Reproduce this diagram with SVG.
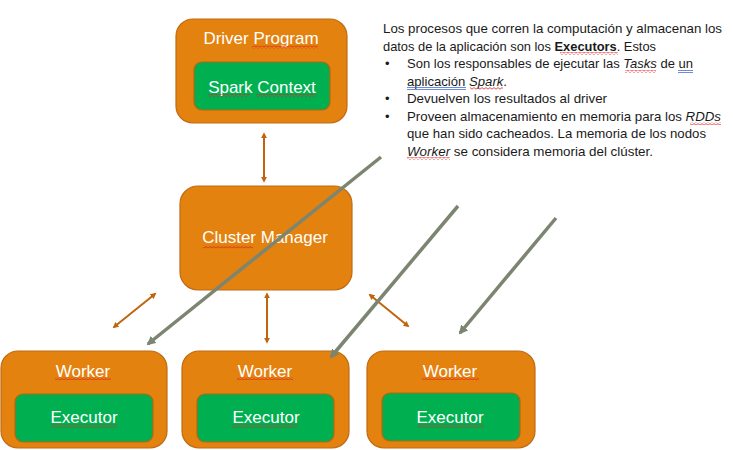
<svg xmlns="http://www.w3.org/2000/svg" width="733" height="450" viewBox="0 0 733 450">
<style>
.box{fill:#E3820F;stroke:#C06A12;stroke-width:1.2}
.inner{fill:#00B050;stroke:#B8660E;stroke-width:1.2}
.lbl{font-family:"Liberation Sans",Arial,sans-serif;font-size:17px;fill:#ffffff;text-anchor:middle}
.txt{font-family:"Liberation Sans",Arial,sans-serif;font-size:13px;fill:#1a1a1a}
.sq{fill:url(#squig)}
.blue{stroke:#4A6FD0;stroke-width:0.8;fill:none}
.oa{stroke:#C0650E;stroke-width:2;fill:none;marker-start:url(#oh);marker-end:url(#oh)}
.ga{stroke:#7B8570;stroke-width:3.5;fill:none;marker-end:url(#gh)}
</style>
<defs>
<pattern id="squig" width="4" height="3" patternUnits="userSpaceOnUse">
<path d="M0 2.2 L2 0.6 L4 2.2" stroke="#E02020" stroke-width="0.8" fill="none"/>
</pattern>
<marker id="oh" viewBox="0 0 10 10" refX="7" refY="5" markerWidth="6" markerHeight="6" markerUnits="userSpaceOnUse" orient="auto-start-reverse">
<path d="M0 0 L10 5 L0 10 z" fill="#C0650E"/>
</marker>
<marker id="gh" viewBox="0 0 10 10" refX="8" refY="5" markerWidth="9" markerHeight="9" markerUnits="userSpaceOnUse" orient="auto">
<path d="M0 0 L10 5 L0 10 z" fill="#7B8570"/>
</marker>
</defs>
<rect width="733" height="450" fill="#ffffff"/>

<g id="driver">
<rect class="box" x="176" y="19" width="171" height="104" rx="17"/>
<text class="lbl" x="261" y="44">Driver Program</text>
<rect class="sq" x="252" y="45.5" width="66" height="3"/>
<g id="sparkcontext">
<rect class="inner" x="194" y="62" width="136" height="48" rx="8"/>
<text class="lbl" x="262" y="93">Spark Context</text>
<rect class="sq" x="208" y="94" width="42" height="3"/>
<rect class="sq" x="256" y="94" width="60" height="3"/>
</g>
</g>

<g id="cluster">
<rect class="box" x="180" y="186" width="172" height="104" rx="18"/>
<text class="lbl" x="265" y="243">Cluster Manager</text>
<rect class="sq" x="203" y="245.5" width="50" height="3"/>
</g>

<g id="worker1">
<rect class="box" x="1" y="351" width="166" height="97" rx="17"/>
<text class="lbl" x="83" y="377">Worker</text>
<rect class="sq" x="55" y="377" width="56" height="3"/>
<g id="executor1">
<rect class="inner" x="15" y="394" width="138" height="48" rx="8"/>
<text class="lbl" x="84" y="423">Executor</text>
<rect class="sq" x="51" y="424.5" width="66" height="3"/>
</g>
</g>

<g id="worker2">
<rect class="box" x="182" y="351" width="167" height="97" rx="17"/>
<text class="lbl" x="265" y="377">Worker</text>
<rect class="sq" x="237" y="377" width="56" height="3"/>
<g id="executor2">
<rect class="inner" x="197" y="394" width="137" height="48" rx="8"/>
<text class="lbl" x="266" y="423">Executor</text>
<rect class="sq" x="232" y="424.5" width="66" height="3"/>
</g>
</g>

<g id="worker3">
<rect class="box" x="367" y="351" width="168" height="97" rx="17"/>
<text class="lbl" x="450" y="377">Worker</text>
<rect class="sq" x="422" y="377" width="57" height="3"/>
<g id="executor3">
<rect class="inner" x="382" y="393" width="138" height="48" rx="8"/>
<text class="lbl" x="450" y="423">Executor</text>
<rect class="sq" x="417" y="424.5" width="67" height="3"/>
</g>
</g>

<g id="notes">
<text class="txt" x="383" y="33" textLength="339" lengthAdjust="spacingAndGlyphs">Los procesos que corren la computación y almacenan los</text>
<text class="txt" x="383" y="50.5" textLength="273" lengthAdjust="spacingAndGlyphs">datos de la aplicación son los <tspan font-weight="bold">Executors</tspan>. Estos</text>
<text class="txt" x="385" y="68">•</text>
<text class="txt" x="407" y="68" textLength="286" lengthAdjust="spacingAndGlyphs">Son los responsables de ejecutar las <tspan font-style="italic">Tasks</tspan> de un</text>
<text class="txt" x="407" y="85.5" textLength="100" lengthAdjust="spacingAndGlyphs">aplicación <tspan font-style="italic">Spark</tspan>.</text>
<text class="txt" x="385" y="103">•</text>
<text class="txt" x="407" y="103" textLength="200" lengthAdjust="spacingAndGlyphs">Devuelven los resultados al driver</text>
<text class="txt" x="385" y="120.5">•</text>
<text class="txt" x="407" y="120.5" textLength="314" lengthAdjust="spacingAndGlyphs">Proveen almacenamiento en memoria para los <tspan font-style="italic">RDDs</tspan></text>
<text class="txt" x="407" y="138" textLength="299" lengthAdjust="spacingAndGlyphs">que han sido cacheados. La memoria de los nodos</text>
<text class="txt" x="407" y="155.5" textLength="246" lengthAdjust="spacingAndGlyphs"><tspan font-style="italic">Worker</tspan> se considera memoria del clúster.</text>
<rect class="sq" x="560" y="52" width="58" height="3"/>
<rect class="sq" x="625" y="70" width="31" height="3"/>
<rect class="sq" x="470" y="87" width="33" height="3"/>
<rect class="sq" x="690" y="122" width="31" height="3"/>
<rect class="sq" x="407" y="157" width="43" height="3"/>
<path class="blue" d="M678 70.5 H693 M678 72.5 H693 M407 87.5 H466 M407 89.5 H466"/>
</g>

<g id="connectors">
<line class="oa" x1="264" y1="134" x2="264" y2="181"/>
<line class="oa" x1="155" y1="294" x2="114" y2="327"/>
<line class="oa" x1="267" y1="294" x2="267" y2="342"/>
<line class="oa" x1="370" y1="295" x2="408" y2="326"/>
<line class="ga" x1="381" y1="157" x2="148" y2="344"/>
<line class="ga" x1="458" y1="206" x2="331" y2="357"/>
<line class="ga" x1="556" y1="218" x2="460" y2="333"/>
</g>
</svg>
